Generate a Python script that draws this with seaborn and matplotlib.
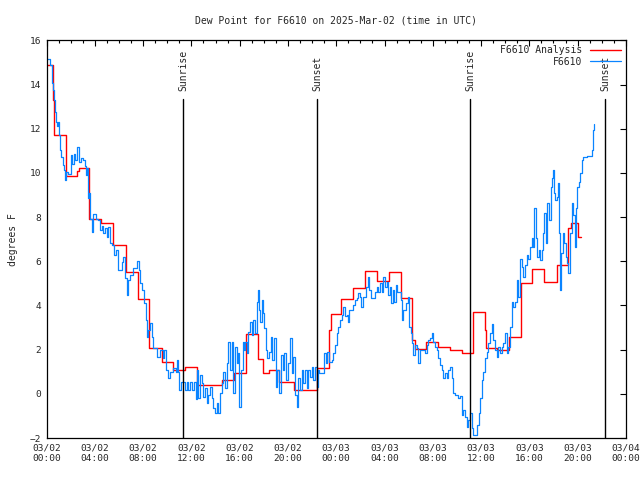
import numpy as np
import pandas as pd
import matplotlib
matplotlib.use('Agg')
import matplotlib.pyplot as plt
import matplotlib.dates as mdates
import seaborn as sns

# hours since 2025-03-02 00:00 UTC
blue_hours = [0.02, 0.27, 0.48, 0.56, 0.62, 0.70, 0.79, 0.89, 0.95, 1.01, 1.09, 1.23, 1.37, 1.45, 1.53,
              1.64, 1.78, 2.00, 2.15, 2.28, 2.40, 2.53, 2.69, 2.88, 3.05, 3.15, 3.25, 3.38, 3.46, 3.56,
              3.60, 3.74, 3.88, 4.10, 4.29, 4.43, 4.57, 4.68, 4.85, 4.99, 5.12, 5.26, 5.43, 5.59, 5.76,
              5.95, 6.23, 6.36, 6.50, 6.64, 6.75, 6.92, 7.19, 7.47, 7.69, 7.75, 7.94, 8.08, 8.22, 8.30,
              8.43, 8.57, 8.72, 8.85, 9.13, 9.18, 9.40, 9.63, 9.73, 9.90, 10.04, 10.23, 10.51, 10.73, 10.84,
              10.92, 11.00, 11.12, 11.31, 11.47, 11.62, 11.72, 11.89, 12.05, 12.22, 12.39, 12.44, 12.58, 12.72,
              12.86, 12.99, 13.13, 13.27, 13.41, 13.55, 13.69, 13.82, 13.96, 14.10, 14.23, 14.37, 14.52, 14.65,
              14.79, 14.93, 15.06, 15.20, 15.34, 15.48, 15.62, 15.76, 15.89, 15.97, 16.09, 16.26, 16.36, 16.47,
              16.59, 16.72, 16.86, 17.00, 17.13, 17.27, 17.41, 17.50, 17.61, 17.69, 17.83, 17.91, 18.02, 18.19,
              18.29, 18.46, 18.57, 18.71, 18.85, 19.01, 19.12, 19.29, 19.43, 19.57, 19.70, 19.84, 20.03, 20.17,
              20.31, 20.45, 20.59, 20.73, 20.86, 21.00, 21.14, 21.28, 21.42, 21.56, 21.69, 21.83, 21.97, 22.10,
              22.25, 22.39, 22.47, 22.60, 22.99, 23.16, 23.26, 23.43, 23.63, 23.76, 23.90, 24.04, 24.18, 24.32,
              24.46, 24.59, 24.73, 24.87, 25.00, 25.09, 25.42, 25.56, 25.70, 25.83, 25.97, 26.06, 26.20, 26.47,
              26.61, 26.72, 26.86, 27.22, 27.36, 27.49, 27.63, 27.77, 27.90, 28.04, 28.19, 28.32, 28.46, 28.54,
              28.68, 28.79, 28.93, 29.06, 29.35, 29.43, 29.51, 29.76, 29.93, 30.03, 30.17, 30.26, 30.39, 30.53,
              30.67, 30.80, 30.94, 31.36, 31.50, 31.63, 31.77, 31.91, 32.05, 32.19, 32.33, 32.46, 32.60, 32.74,
              32.88, 33.02, 33.16, 33.29, 33.43, 33.57, 33.70, 33.84, 34.12, 34.26, 34.40, 34.53, 34.67, 34.81,
              34.95, 35.09, 35.23, 35.36, 35.64, 35.83, 35.92, 36.06, 36.19, 36.33, 36.47, 36.60, 36.74, 36.88,
              37.02, 37.16, 37.30, 37.43, 37.57, 37.71, 37.85, 37.99, 38.13, 38.26, 38.40, 38.54, 38.67, 38.81,
              38.95, 39.09, 39.23, 39.37, 39.50, 39.64, 39.78, 39.92, 40.06, 40.20, 40.33, 40.41, 40.53, 40.66,
              40.80, 40.89, 41.03, 41.16, 41.24, 41.36, 41.49, 41.63, 41.77, 41.86, 41.94, 42.04, 42.13, 42.27,
              42.40, 42.48, 42.54, 42.65, 42.77, 42.87, 43.01, 43.10, 43.23, 43.37, 43.51, 43.65, 43.79, 43.87,
              43.98, 44.12, 44.20, 44.34, 44.47, 44.76, 45.17, 45.30, 45.39]
blue_vals = [15.14, 14.90, 14.07, 13.75, 13.30, 12.77, 12.30, 12.12, 12.30, 11.70, 11.04, 10.70, 10.36, 10.13, 9.68,
             10.05, 9.95, 10.81, 10.40, 10.85, 10.60, 11.19, 10.50, 10.66, 10.58, 10.30, 9.90, 10.20, 8.85, 9.10,
             7.90, 7.34, 8.14, 7.90, 7.87, 7.42, 7.60, 7.30, 7.49, 7.11, 7.56, 6.81, 6.74, 6.29, 6.51,
             5.60, 5.98, 6.20, 5.23, 4.47, 5.15, 5.38, 5.68, 6.03, 5.60, 5.00, 4.70, 4.10, 3.34, 2.59,
             2.89, 3.19, 2.59, 2.06, 2.06, 1.68, 1.99, 1.60, 2.00, 1.08, 0.70, 1.00, 1.16, 1.00, 1.53,
             1.00, 0.18, 0.55, 0.55, 0.18, 0.55, 0.18, 0.55, 0.18, 0.55, -0.23, 1.08, -0.20, 0.86,
             0.48, -0.13, 0.25, -0.43, -0.05, 0.33, -0.20, -0.65, -0.85, -0.43, -0.85, 0.02, 0.48, 1.00,
             0.25, 1.38, 2.36, 1.08, 2.36, 0.02, 2.13, 1.38, 1.84, -0.58, 1.08, 2.36, 1.99, 2.36,
             1.84, 2.81, 3.27, 2.67, 3.35, 2.74, 4.17, 4.70, 3.80, 3.27, 4.25, 3.65, 2.97, 1.99,
             1.61, 1.91, 2.59, 1.53, 2.51, 0.33, 1.08, 0.02, 1.76, 1.08, 1.84, 0.63, 1.38, 2.51,
             0.93, 1.68, -0.05, -0.58, 0.71, 0.18, 1.08, 0.48, 1.08, 0.25, 1.08, 0.78, 1.23, 0.63,
             1.23, 0.33, 1.08, 0.93, 1.84, 1.38, 1.91, 1.46, 1.53, 1.84, 2.21, 2.74, 3.04, 3.34,
             3.57, 3.95, 3.50, 3.57, 3.27, 3.80, 4.02, 4.25, 4.33, 4.55, 4.40, 3.95, 4.40, 4.85,
             5.30, 4.70, 4.33, 4.62, 4.85, 4.62, 5.00, 4.62, 5.30, 4.85, 5.08, 4.48, 4.85, 4.10,
             4.70, 4.17, 4.93, 4.62, 4.25, 3.34, 3.80, 4.10, 4.40, 3.04, 2.74, 2.29, 1.76, 2.21,
             2.06, 1.38, 1.99, 1.84, 2.21, 2.44, 2.51, 2.74, 2.36, 2.13, 1.99, 1.61, 1.31, 1.08,
             0.71, 0.93, 0.71, 1.08, 1.23, 0.71, 0.02, -0.05, -0.20, -0.12, -0.95, -0.73, -1.03, -1.48,
             -1.18, -0.88, -1.56, -1.86, -1.41, -0.88, -0.20, 0.63, 1.00, 1.61, 1.91, 2.29, 2.74, 3.16,
             2.44, 1.99, 1.68, 2.13, 1.84, 2.13, 2.29, 2.74, 1.84, 2.13, 3.04, 4.17, 3.95, 4.17,
             5.15, 4.40, 6.12, 5.75, 5.30, 5.83, 6.29, 6.12, 6.66, 7.04, 6.66, 8.40, 7.04, 6.20,
             6.51, 6.06, 6.51, 7.27, 8.17, 6.81, 8.62, 7.87, 9.37, 9.75, 10.13, 9.08, 8.77, 8.92,
             9.53, 7.27, 4.70, 6.36, 7.27, 6.81, 6.20, 5.91, 5.46, 7.27, 8.62, 8.10, 6.66, 8.40,
             9.37, 9.60, 9.98, 10.58, 10.73, 10.78, 11.04, 11.94, 12.20]

red_hours = [0.0, 0.55, 0.65, 1.6, 2.55, 2.65, 3.5, 4.55, 5.5, 6.55, 7.55, 8.5, 9.55, 10.5, 11.45,
             12.5, 14.5, 15.5, 16.5, 17.5, 17.9, 18.45, 19.3, 20.5, 22.4, 23.4, 23.55, 24.4, 25.4,
             26.4, 27.35, 28.4, 29.35, 30.3, 30.5, 31.4, 32.4, 33.4, 34.4, 35.3, 35.35, 36.3, 36.4,
             37.3, 38.3, 39.3, 40.25, 41.25, 42.3, 43.2, 43.45, 44.06, 44.26]
red_vals = [14.9, 13.3, 11.7, 9.87, 10.1, 10.24, 7.9, 7.75, 6.74, 5.5, 4.3, 2.06, 1.43, 1.08, 1.2,
            0.4, 0.63, 0.93, 2.71, 1.57, 0.93, 1.08, 0.55, 0.15, 1.17, 2.9, 3.6, 4.28, 4.78,
            5.57, 5.1, 5.5, 4.33, 2.44, 2.02, 2.36, 2.1, 1.99, 1.84, 2.74, 3.69, 2.89, 2.06,
            1.99, 2.56, 5.0, 5.65, 5.05, 5.83, 7.5, 7.72, 7.09, 7.09]

event_names = ['Sunrise', 'Sunset', 'Sunrise', 'Sunset']
event_hours = [11.33, 22.44, 35.11, 46.3]

base = pd.Timestamp('2025-03-02 00:00')
blue_t = base + pd.to_timedelta(blue_hours, unit='h')
red_t = base + pd.to_timedelta(red_hours, unit='h')
event_t = base + pd.to_timedelta(event_hours, unit='h')

sns.set_style('white')
plt.rcParams['font.family'] = ['DejaVu Sans Mono']

fig = plt.figure(figsize=(6.4, 4.8), dpi=100)
ax = fig.add_axes([0.0727, 0.0875, 0.9053, 0.8285])

sns.lineplot(x=red_t, y=red_vals, ax=ax, color='#FF0000', lw=1.0, drawstyle='steps-post',
             label='F6610 Analysis', estimator=None, sort=False)
sns.lineplot(x=blue_t, y=blue_vals, ax=ax, color='#0A84FF', lw=0.9, drawstyle='steps-post',
             label='F6610', estimator=None, sort=False)

for name, t in zip(event_names, event_t):
    ax.plot([t, t], [-2, 13.33], color='black', lw=1.0)
    ax.text(t, 13.7, name, rotation=90, ha='center', va='bottom', fontsize=7)

ax.set_xlim(base, base + pd.Timedelta(hours=48))
ax.set_ylim(-2, 16)
ax.set_yticks(np.arange(-2, 17, 2))
ax.xaxis.set_major_locator(mdates.HourLocator(byhour=[0, 4, 8, 12, 16, 20]))
ax.xaxis.set_minor_locator(mdates.HourLocator())
ax.xaxis.set_major_formatter(mdates.DateFormatter('%m/%d\n%H:%M'))

ax.tick_params(which='both', direction='in', top=True, right=True, labelsize=6.8, color='black')
ax.tick_params(which='major', length=4.5, width=0.8, pad=4)
ax.tick_params(which='minor', length=2.3, width=0.8)
for s in ax.spines.values():
    s.set_color('black')
    s.set_linewidth(0.9)

ax.set_xlabel('')
ax.set_ylabel('degrees F', fontsize=7, labelpad=8)
ax.set_title('Dew Point for F6610 on 2025-Mar-02 (time in UTC)', fontsize=7, pad=12)

ax.legend(loc='upper right', frameon=False, markerfirst=False, fontsize=7, handlelength=3.2,
          borderaxespad=0.1, labelspacing=0.15, handletextpad=0.8)

fig.savefig('out.png', dpi=100)
